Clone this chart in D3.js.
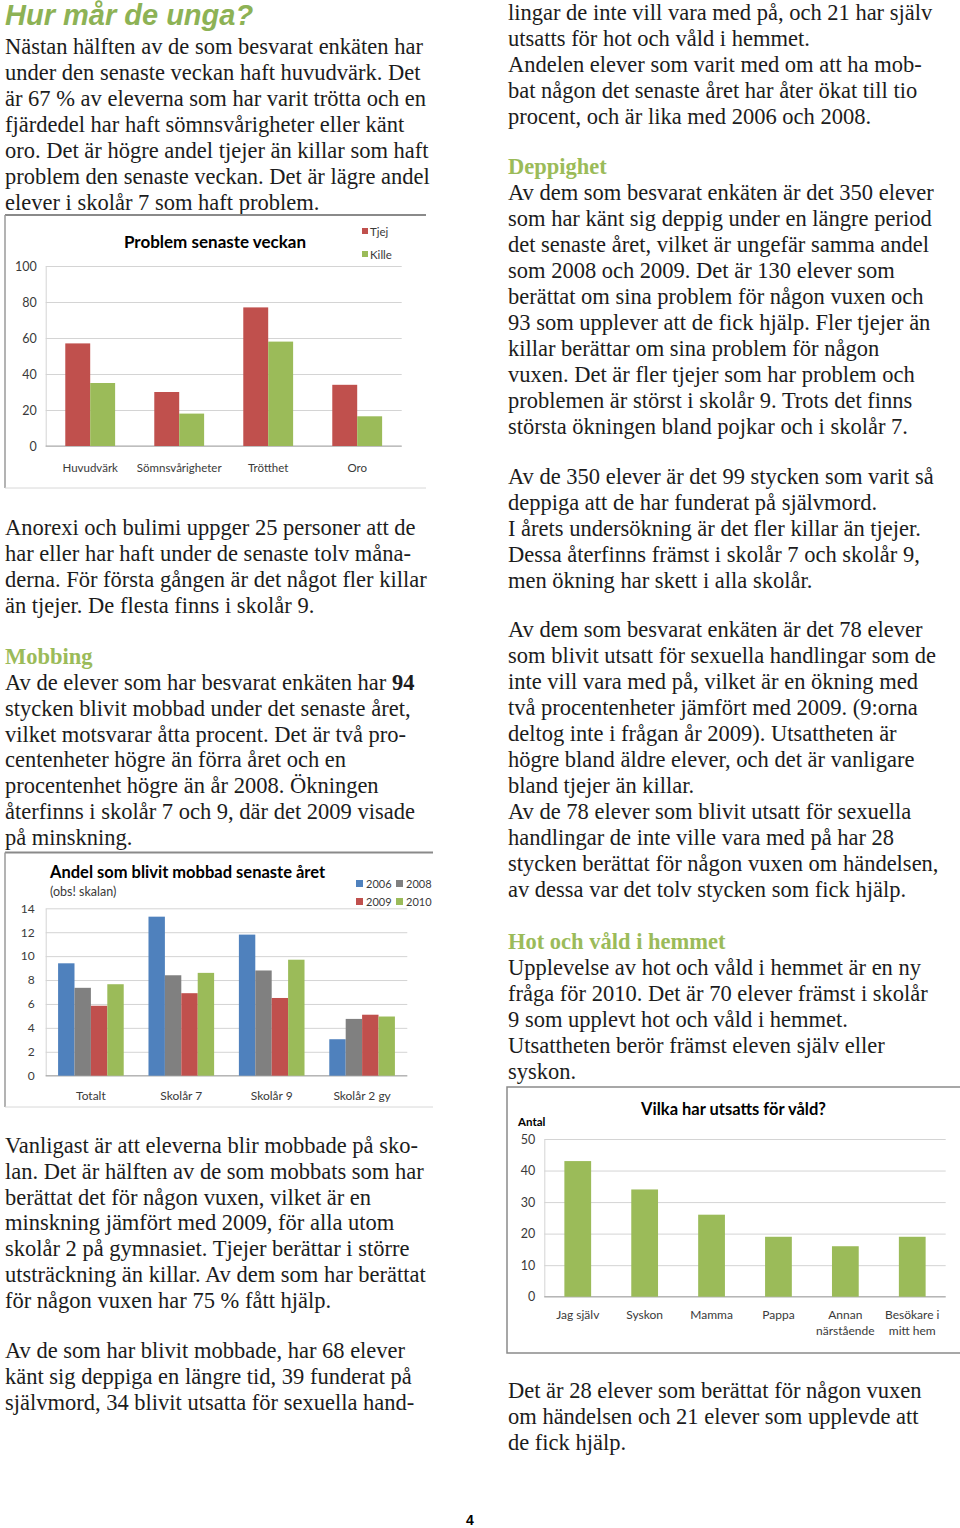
<!DOCTYPE html>
<html><head><meta charset="utf-8">
<script src="https://cdn.jsdelivr.net/npm/d3@7"></script>
<style>
html,body{margin:0;padding:0;background:#fff;}
svg{display:block;}
</style></head><body>
<svg id="page" width="960" height="1528"></svg>
<script>
// ---------- DATA ----------
const probCats = ["Huvudvärk", "Sömnsvårigheter", "Trötthet", "Oro"];
const probSeries = ["Tjej", "Kille"];
const probTjej = [57, 30, 77, 34];
const probKille = [35, 18, 58, 16.5];
const probTicks = [0, 20, 40, 60, 80, 100];

const mobCats = ["Totalt", "Skolår 7", "Skolår 9", "Skolår 2 gy"];
const mobYears = ["2006", "2008", "2009", "2010"];
const mob2006 = [9.4, 13.3, 11.8, 3.05];
const mob2008 = [7.35, 8.4, 8.8, 4.75];
const mob2009 = [5.85, 6.9, 6.5, 5.1];
const mob2010 = [7.65, 8.6, 9.7, 4.95];
const mobTicks = [0, 2, 4, 6, 8, 10, 12, 14];

const valdCats = ["Jag själv", "Syskon", "Mamma", "Pappa", "Annan närstående", "Besökare i mitt hem"];
const valdLabelLines = [["Jag själv"], ["Syskon"], ["Mamma"], ["Pappa"], ["Annan", "närstående"], ["Besökare i", "mitt hem"]];
const valdValues = [43, 34, 26, 19, 16, 19];
const valdTicks = [0, 10, 20, 30, 40, 50];

// ---------- TEXT ----------
const pageTitle = "Hur mår de unga?";
const left1 = [
  "Nästan hälften av de som besvarat enkäten har",
  "under den senaste veckan haft huvudvärk. Det",
  "är 67 % av eleverna som har varit trötta och en",
  "fjärdedel har haft sömnsvårigheter eller känt",
  "oro. Det är högre andel tjejer än killar som haft",
  "problem den senaste veckan. Det är lägre andel",
  "elever i skolår 7 som haft problem."
];
const left2 = [
  "Anorexi och bulimi uppger 25 personer att de",
  "har eller har haft under de senaste tolv måna-",
  "derna. För första gången är det något fler killar",
  "än tjejer. De flesta finns i skolår 9."
];
const headMobbing = "Mobbing";
const left3 = [
  "Av de elever som har besvarat enkäten har **94**",
  "stycken blivit mobbad under det senaste året,",
  "vilket motsvarar åtta procent. Det är två pro-",
  "centenheter högre än förra året och en",
  "procentenhet högre än år 2008. Ökningen",
  "återfinns i skolår 7 och 9, där det 2009 visade",
  "på minskning."
];
const left4 = [
  "Vanligast är att eleverna blir mobbade på sko-",
  "lan. Det är hälften av de som mobbats som har",
  "berättat det för någon vuxen, vilket är en",
  "minskning jämfört med 2009, för alla utom",
  "skolår 2 på gymnasiet. Tjejer berättar i större",
  "utsträckning än killar. Av dem som har berättat",
  "för någon vuxen har 75 % fått hjälp."
];
const left5 = [
  "Av de som har blivit mobbade, har 68 elever",
  "känt sig deppiga en längre tid, 39 funderat på",
  "självmord, 34 blivit utsatta för sexuella hand-"
];
const right1 = [
  "lingar de inte vill vara med på, och 21 har själv",
  "utsatts för hot och våld i hemmet.",
  "Andelen elever som varit med om att ha mob-",
  "bat någon det senaste året har åter ökat till tio",
  "procent, och är lika med 2006 och 2008."
];
const headDepp = "Deppighet";
const right2 = [
  "Av dem som besvarat enkäten är det 350 elever",
  "som har känt sig deppig under en längre period",
  "det senaste året, vilket är ungefär samma andel",
  "som 2008 och 2009. Det är 130 elever som",
  "berättat om sina problem för någon vuxen och",
  "93 som upplever att de fick hjälp. Fler tjejer än",
  "killar berättar om sina problem för någon",
  "vuxen. Det är fler tjejer som har problem och",
  "problemen är störst i skolår 9. Trots det finns",
  "största ökningen bland pojkar och i skolår 7."
];
const right3 = [
  "Av de 350 elever är det 99 stycken som varit så",
  "deppiga att de har funderat på självmord.",
  "I årets undersökning är det fler killar än tjejer.",
  "Dessa återfinns främst i skolår 7 och skolår 9,",
  "men ökning har skett i alla skolår."
];
const right4 = [
  "Av dem som besvarat enkäten är det 78 elever",
  "som blivit utsatt för sexuella handlingar som de",
  "inte vill vara med på, vilket är en ökning med",
  "två procentenheter jämfört med 2009. (9:orna",
  "deltog inte i frågan år 2009). Utsattheten är",
  "högre bland äldre elever, och det är vanligare",
  "bland tjejer än killar.",
  "Av de 78 elever som blivit utsatt för sexuella",
  "handlingar de inte ville vara med på har 28",
  "stycken berättat för någon vuxen om händelsen,",
  "av dessa var det tolv stycken som fick hjälp."
];
const headHot = "Hot och våld i hemmet";
const right5 = [
  "Upplevelse av hot och våld i hemmet är en ny",
  "fråga för 2010. Det är 70 elever främst i skolår",
  "9 som upplevt hot och våld i hemmet.",
  "Utsattheten berör främst eleven själv eller",
  "syskon."
];
const right6 = [
  "Det är 28 elever som berättat för någon vuxen",
  "om händelsen och 21 elever som upplevde att",
  "de fick hjälp."
];
const pageNumber = "4";

// ---------- STYLE ----------
const SERIF = "'Liberation Serif','Times New Roman',serif";
const SANS = "Lato,'Open Sans',sans-serif";
const TXT = "#1c1c1c";
const HEAD_GREEN = "#9bbb59";
const C_RED = "#c0504d", C_GREEN = "#9bbb59", C_BLUE = "#4f81bd", C_GRAY = "#808080";
const GRID = "#d4d4d4", AXIS = "#a8a8a8", TICKTXT = "#3a3a3a";

const svg = d3.select("#page");
svg.append("rect").attr("width", 960).attr("height", 1528).attr("fill", "#fff");

// ---------- TEXT RENDER ----------
function block(lines, x, y0, pitch, opts = {}) {
  const g = svg.append("g");
  lines.forEach((ln, i) => {
    const t = g.append("text")
      .attr("x", x).attr("y", y0 + i * pitch)
      .attr("font-family", opts.family || SERIF)
      .attr("font-size", opts.size || 22.5)
      .attr("font-weight", opts.weight || "normal")
      .attr("font-style", opts.style || "normal")
      .attr("fill", opts.color || TXT);
    const parts = ln.split("**");
    parts.forEach((p, k) => {
      if (!p) return;
      t.append("tspan").attr("font-weight", k % 2 ? "bold" : null).text(p);
    });
  });
}
block([pageTitle], 5, 25, 0, {family: "'Liberation Sans',Arial,sans-serif", size: 29, weight: "bold", style: "italic", color: "#8db255"});
block(left1, 5, 54, 26);
block(left2, 5, 535, 26);
block([headMobbing], 5, 664, 0, {weight: "bold", color: HEAD_GREEN});
block(left3, 5, 690, 25.8);
block(left4, 5, 1153, 25.8);
block(left5, 5, 1358, 26);
block(right1, 508, 20, 26);
block([headDepp], 508, 174, 0, {weight: "bold", color: HEAD_GREEN});
block(right2, 508, 200, 26);
block(right3, 508, 484, 26);
block(right4, 508, 637, 26);
block([headHot], 508, 949, 0, {weight: "bold", color: HEAD_GREEN});
block(right5, 508, 975, 26);
block(right6, 508, 1398, 26);
block([pageNumber], 466, 1525, 0, {family: "'Liberation Sans',Arial,sans-serif", size: 14, weight: "bold", color: "#000"});

// ---------- CHART HELPERS ----------
function frame(g, x0, y0, x1, y1) {
  g.append("line").attr("x1", x0).attr("x2", x1).attr("y1", y0).attr("y2", y0).attr("stroke", "#8a8a8a").attr("stroke-width", 2);
  g.append("line").attr("x1", x0).attr("x2", x0).attr("y1", y0).attr("y2", y1).attr("stroke", "#9a9a9a").attr("stroke-width", 1.5);
  g.append("line").attr("x1", x0).attr("x2", x1).attr("y1", y1).attr("y2", y1).attr("stroke", "#d8d8d8").attr("stroke-width", 1);
}
function yGrid(g, y, ticks, xL, xR, pad, fs) {
  const ax = g.append("g").attr("transform", `translate(${xL},0)`)
    .call(d3.axisLeft(y).tickValues(ticks).tickSize(-(xR - xL)).tickSizeOuter(0).tickPadding(pad));
  ax.select(".domain").attr("stroke", GRID);
  ax.selectAll(".tick line").attr("stroke", GRID);
  ax.selectAll(".tick text").attr("font-family", SANS).attr("font-size", fs).attr("fill", TICKTXT);
  g.append("line").attr("x1", xL).attr("x2", xR).attr("y1", y(0)).attr("y2", y(0)).attr("stroke", AXIS);
}
function xLabels(g, x, yBase, pad, fs) {
  const ax = g.append("g").attr("transform", `translate(0,${yBase})`)
    .call(d3.axisBottom(x).tickSize(0).tickPadding(pad));
  ax.select(".domain").remove();
  ax.selectAll(".tick text").attr("font-family", SANS).attr("font-size", fs).attr("fill", TICKTXT);
  return ax;
}

// ---------- CHART 1 ----------
{
  const g = svg.append("g");
  frame(g, 5, 215, 426, 488);
  const x = d3.scaleBand().domain(probCats).range([45.7, 401.7]).paddingInner(0.44).paddingOuter(0.22);
  const xs = d3.scaleBand().domain(probSeries).range([0, x.bandwidth()]);
  const y = d3.scaleLinear().domain([0, 100]).range([446, 266]);
  yGrid(g, y, probTicks, 45.7, 401.7, 9, 12.5);
  xLabels(g, x, 446, 18, 11.5);
  const vals = {Tjej: probTjej, Kille: probKille};
  const col = {Tjej: C_RED, Kille: C_GREEN};
  probSeries.forEach(s => {
    g.selectAll(null).data(probCats).enter().append("rect")
      .attr("x", (c) => x(c) + xs(s)).attr("width", xs.bandwidth())
      .attr("y", (c, i) => y(vals[s][i])).attr("height", (c, i) => y(0) - y(vals[s][i]))
      .attr("fill", col[s]);
  });
  g.append("text").attr("x", 215).attr("y", 248).attr("text-anchor", "middle")
    .attr("font-family", SANS).attr("font-weight", "bold").attr("font-size", 17).attr("fill", "#000")
    .text("Problem senaste veckan");
  probSeries.forEach((s, i) => {
    g.append("rect").attr("x", 362).attr("y", 228 + i * 23).attr("width", 6).attr("height", 6).attr("fill", col[s]);
    g.append("text").attr("x", 370).attr("y", 235.5 + i * 23).attr("font-family", SANS).attr("font-size", 11.5)
      .attr("fill", TICKTXT).text(s);
  });
}

// ---------- CHART 2 ----------
{
  const g = svg.append("g");
  frame(g, 5, 852.5, 433, 1107);
  const x = d3.scaleBand().domain(mobCats).range([45.7, 407.3]).paddingInner(0.274).paddingOuter(0.137);
  const xs = d3.scaleBand().domain(mobYears).range([0, x.bandwidth()]);
  const y = d3.scaleLinear().domain([0, 14]).range([1075.7, 908.3]);
  yGrid(g, y, mobTicks, 45.7, 407.3, 11, 12);
  xLabels(g, x, 1075.7, 16, 12);
  const vals = {"2006": mob2006, "2008": mob2008, "2009": mob2009, "2010": mob2010};
  const col = {"2006": C_BLUE, "2008": C_GRAY, "2009": C_RED, "2010": C_GREEN};
  mobYears.forEach(s => {
    g.selectAll(null).data(mobCats).enter().append("rect")
      .attr("x", (c) => x(c) + xs(s)).attr("width", xs.bandwidth())
      .attr("y", (c, i) => y(vals[s][i])).attr("height", (c, i) => y(0) - y(vals[s][i]))
      .attr("fill", col[s]);
  });
  g.append("text").attr("x", 50).attr("y", 878).attr("font-family", SANS).attr("font-weight", "bold")
    .attr("font-size", 16.5).attr("fill", "#000").text("Andel som blivit mobbad senaste året");
  g.append("text").attr("x", 50).attr("y", 896).attr("font-family", SANS)
    .attr("font-size", 12.5).attr("fill", TICKTXT).text("(obs! skalan)");
  mobYears.forEach((s, i) => {
    const lx = 356 + (i % 2) * 40, ly = 880 + Math.floor(i / 2) * 18;
    g.append("rect").attr("x", lx).attr("y", ly).attr("width", 7).attr("height", 7).attr("fill", col[s]);
    g.append("text").attr("x", lx + 10).attr("y", ly + 7.5).attr("font-family", SANS).attr("font-size", 11)
      .attr("fill", TICKTXT).text(s);
  });
}

// ---------- CHART 3 ----------
{
  const g = svg.append("g");
  g.append("rect").attr("x", 507).attr("y", 1087).attr("width", 470).attr("height", 266)
    .attr("fill", "none").attr("stroke", "#8a8a8a").attr("stroke-width", 1.5);
  const x = d3.scaleBand().domain(valdCats).range([544.3, 945.7]).paddingInner(0.6).paddingOuter(0.3);
  const y = d3.scaleLinear().domain([0, 50]).range([1296.7, 1139]);
  yGrid(g, y, valdTicks, 544.3, 945.7, 9, 12.5);
  const ax = xLabels(g, x, 1296.7, 14, 12);
  ax.selectAll(".tick text").each(function(d, i) {
    const t = d3.select(this); t.text(null);
    valdLabelLines[i].forEach((ln, k) => {
      t.append("tspan").attr("x", 0).attr("dy", k === 0 ? "0.71em" : "1.35em").text(ln);
    });
  }).attr("dy", null);
  g.selectAll(null).data(valdCats).enter().append("rect")
    .attr("x", c => x(c)).attr("width", x.bandwidth())
    .attr("y", (c, i) => y(valdValues[i])).attr("height", (c, i) => y(0) - y(valdValues[i]))
    .attr("fill", C_GREEN);
  g.append("text").attr("x", 733.5).attr("y", 1115).attr("text-anchor", "middle")
    .attr("font-family", SANS).attr("font-weight", "bold").attr("font-size", 16.5).attr("fill", "#000")
    .text("Vilka har utsatts för våld?");
  g.append("text").attr("x", 518).attr("y", 1126).attr("font-family", SANS).attr("font-weight", "bold")
    .attr("font-size", 11.5).attr("fill", "#000").text("Antal");
}
</script></body></html>
